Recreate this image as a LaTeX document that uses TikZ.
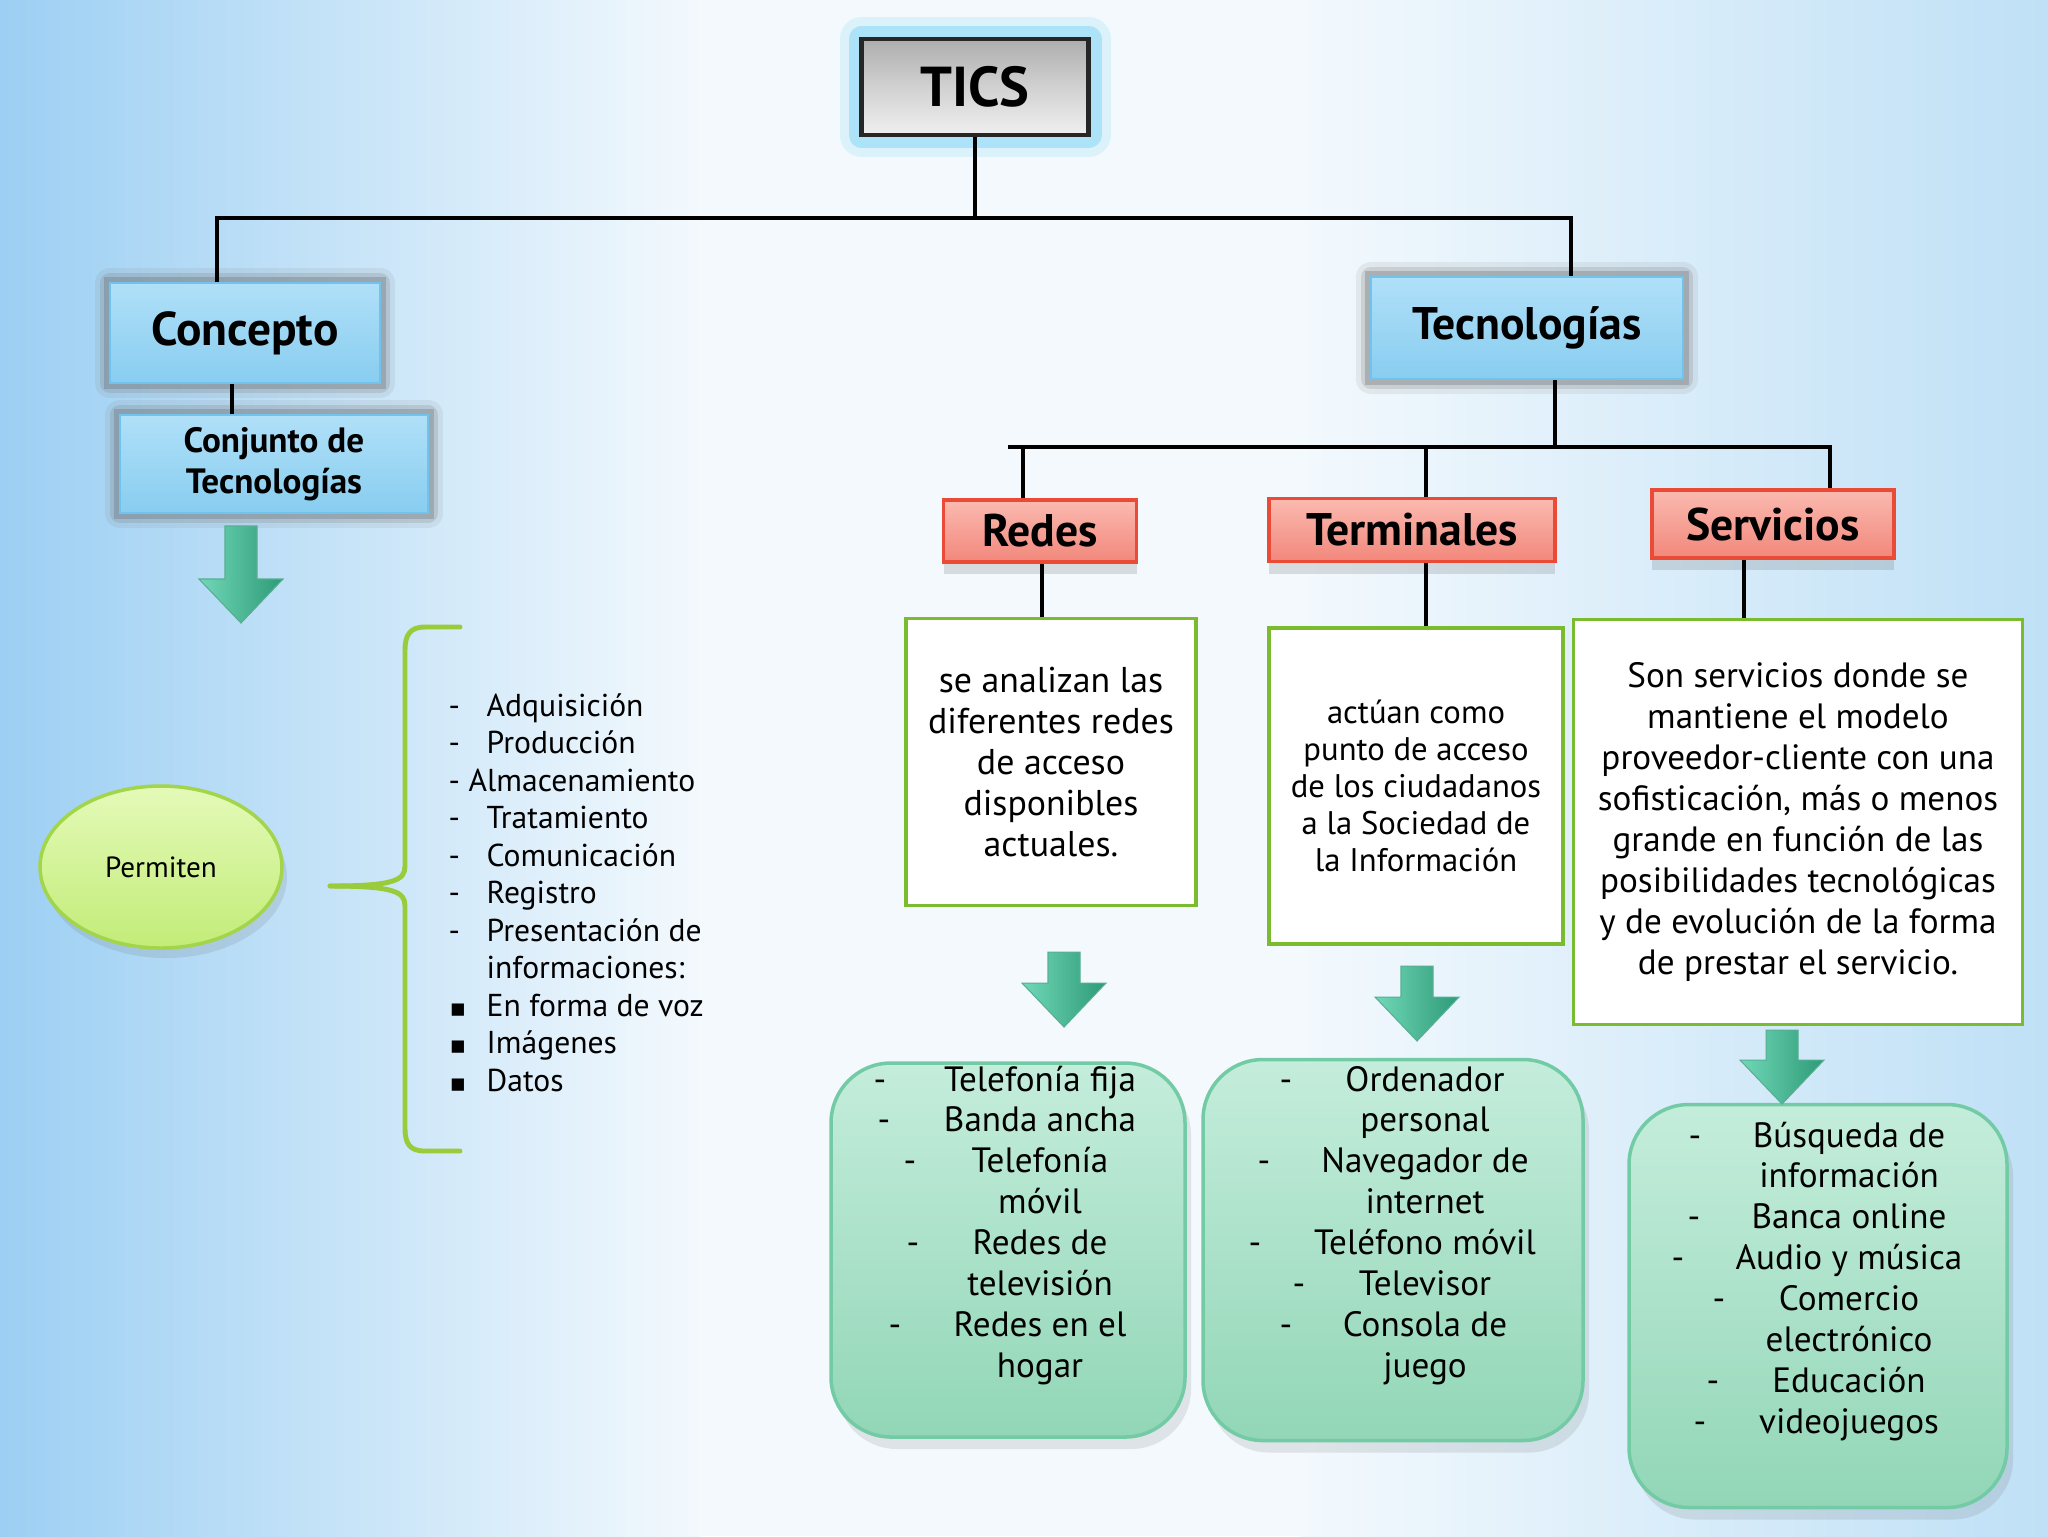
\documentclass[tikz,border=0pt]{standalone}
\usepackage{fontspec}
\setmainfont{PT Sans}
\newfontfamily\symfont{DejaVu Sans}
\usepackage{tikz}
\usetikzlibrary{shadows}
\usetikzlibrary{shapes.geometric}

\definecolor{bgblue}{HTML}{9CCFF3}
\definecolor{bgwhite}{HTML}{F3F9FD}
\definecolor{bgright}{HTML}{BFE0F6}
\definecolor{skytop}{HTML}{B0E0F8}
\definecolor{skybot}{HTML}{88CDF0}
\definecolor{skyline}{HTML}{6FC3EC}
\definecolor{redtop}{HTML}{FBBAB0}
\definecolor{redbot}{HTML}{F2877B}
\definecolor{redline}{HTML}{E94B36}
\definecolor{leafline}{HTML}{7BBB2F}
\definecolor{minttop}{HTML}{C4EDDB}
\definecolor{mintbot}{HTML}{92D6B7}
\definecolor{mintline}{HTML}{72CBA4}
\definecolor{arrlight}{HTML}{70D8B8}
\definecolor{arrdark}{HTML}{2E9A77}
\definecolor{limetop}{HTML}{E4FAB8}
\definecolor{limebot}{HTML}{C2EC78}
\definecolor{limeline}{HTML}{A2D54A}
\definecolor{braceline}{HTML}{9ACB3A}

\begin{document}
\begin{tikzpicture}[x=0.1mm, y=-0.1mm,
    line/.style={draw=black, line width=0.9pt},
    halo/.style={preaction={draw=black!50, line width=3mm, opacity=.12, line join=round},
                 preaction={draw=black!55, line width=2mm, opacity=.2, line join=round},
                 preaction={draw=black!60, line width=1.2mm, opacity=.3}},
    bluebox/.style={rectangle, halo, top color=skytop, bottom color=skybot,
                    draw=skyline, line width=0.8pt, inner sep=0pt},
    redbox/.style={rectangle, top color=redtop, bottom color=redbot, draw=redline,
                   line width=1pt, inner sep=0pt,
                   drop shadow={shadow xshift=0mm, shadow yshift=-1.2mm, opacity=.2, fill=black!60},
                   font=\fontsize{13}{15}\selectfont\bfseries},
    descbox/.style={rectangle, fill=white, draw=leafline, line width=1.1pt,
                    inner sep=0pt, align=center},
    mintbox/.style={rectangle, rounded corners=6mm, top color=minttop, bottom color=mintbot,
                    draw=mintline, line width=1pt,
                    drop shadow={shadow xshift=0.6mm, shadow yshift=-1.2mm, opacity=.15, fill=black!60}},
    listtxt/.style={anchor=base, inner sep=0pt, font=\fontsize{10}{12}\selectfont},
    leftlist/.style={anchor=base west, inner sep=0pt, font=\fontsize{9}{11}\selectfont},
    greenarrow/.style={left color=arrlight, right color=arrdark, draw=arrdark!80, line width=0.3pt},
    brace/.style={draw=braceline, line width=1.4pt, line cap=round}]

% background
\shade[left color=bgblue, right color=bgwhite] (0,0) rectangle (701,1536);
\fill[bgwhite] (700,0) rectangle (1301,1536);
\shade[left color=bgwhite, right color=bgright] (1300,0) rectangle (2048,1536);
\useasboundingbox (0,0) rectangle (2048,1536);

% top
\node[rectangle, preaction={draw=cyan!40, line width=4.4mm, opacity=.25, line join=round},
      preaction={draw=cyan!55, line width=2.6mm, opacity=.45, line join=round},
      top color=black!32, bottom color=black!6, middle color=black!18,
      draw=black!85, line width=1.4pt, minimum width=22.7mm, minimum height=9.6mm,
      font=\fontsize{16}{18}\selectfont\bfseries] (tics) at (975,87) {TICS};

\node[bluebox, minimum width=27mm, minimum height=10mm,
      font=\fontsize{13.5}{16}\selectfont\bfseries] (concepto) at (245,333) {Concepto};
\node[bluebox, minimum width=30.8mm, minimum height=9.8mm, align=center,
      font=\fontsize{10}{11.7}\selectfont\bfseries] (conjunto) at (274,464) {Conjunto de\\Tecnologías};
\node[bluebox, minimum width=31.2mm, minimum height=10.2mm,
      font=\fontsize{13}{16}\selectfont\bfseries] (tecno) at (1527,328) {Tecnologías};

\node[ellipse, top color=limetop, bottom color=limebot, draw=limeline, line width=1pt,
      minimum width=24.2mm, minimum height=16.2mm,
      drop shadow={shadow xshift=0.5mm, shadow yshift=-1mm, opacity=.15, fill=black!60},
      font=\fontsize{8.3}{10}\selectfont] (permiten) at (161,867) {Permiten};

% the three kinds
\node[redbox, minimum width=19.3mm, minimum height=6.2mm] (redes) at (1040,531) {Redes};
\node[redbox, minimum width=28.6mm, minimum height=6.3mm] (term) at (1412,530) {Terminales};
\node[redbox, minimum width=24.2mm, minimum height=6.8mm] (serv) at (1773,524) {Servicios};

\node[descbox, minimum width=29mm, minimum height=28.7mm,
      font=\fontsize{10.2}{11.7}\selectfont] (rdesc) at (1051,762)
      {se analizan las\\diferentes redes\\de acceso\\disponibles\\actuales.};
\node[descbox, minimum width=29.4mm, minimum height=31.6mm,
      font=\fontsize{9.3}{10.5}\selectfont] (tdesc) at (1416,786)
      {actúan como\\punto de acceso\\de los ciudadanos\\a la Sociedad de\\la Información};
\node[descbox, minimum width=44.9mm, minimum height=40.5mm,
      font=\fontsize{10}{11.7}\selectfont] (sdesc) at (1798,822)
      {Son servicios donde se\\mantiene el modelo\\proveedor-cliente con una\\sofisticación, más o menos\\grande en función de las\\posibilidades tecnológicas\\y de evolución de la forma\\de prestar el servicio.};

\node[mintbox, minimum width=35.4mm, minimum height=37.4mm] (rlist) at (1008,1250) {};
\node[mintbox, minimum width=38mm, minimum height=38.1mm] (tlist) at (1393,1250) {};
\node[mintbox, minimum width=37.8mm, minimum height=40.3mm] (slist) at (1818,1306) {};

% connectors
\coordinate (b1) at (217,218);
\coordinate (b2) at (1571,218);
\coordinate (c1) at (232,0);
\coordinate (t1) at (1555,447);
\coordinate (b3) at (1008,447);
\coordinate (b4) at (1830,447);
\coordinate (r1) at (1023,447);
\coordinate (m1) at (1426,447);
\coordinate (r2) at (1042,0);
\coordinate (m2) at (1426,0);
\coordinate (s2) at (1744,0);
\begin{scope}[every path/.style={line}]
  \draw (tics.south) -- (tics.south |- b1);
  \draw (concepto.north -| b1) -- (b1) -- (b2) -- (b2 |- tecno.north);
  \draw (concepto.south -| c1) -- (conjunto.north -| c1);
  \draw (tecno.south -| t1) -- (t1);
  \draw (b3) -- (b4) -- (b4 |- serv.north);
  \draw (r1) -- (r1 |- redes.north);
  \draw (m1) -- (m1 |- term.north);
  \draw (redes.south -| r2) -- (rdesc.north -| r2);
  \draw (term.south -| m2) -- (tdesc.north -| m2);
  \draw (serv.south -| s2) -- (sdesc.north -| s2);
\end{scope}

% green arrows
\foreach \ax/\ay/\al in {241/526/97, 1064/952/75, 1417/966/75, 1782/1030/74}
  \shade[greenarrow] (\ax-16,\ay) -- (\ax+16,\ay) -- (\ax+16,\ay+\al-44) -- (\ax+42,\ay+\al-44)
        -- (\ax,\ay+\al) -- (\ax-42,\ay+\al-44) -- (\ax-16,\ay+\al-44) -- cycle;

% brace
\draw[brace] (460,627) -- (425,627) .. controls (410,627) and (405,635) .. (405,650) -- (405,866)
      .. controls (405,880) and (395,886) .. (330,886);
\draw[brace] (330,886) .. controls (395,886) and (405,892) .. (405,906) -- (405,1128)
      .. controls (405,1144) and (410,1151) .. (425,1151) -- (460,1151);

% left list
\foreach \xx/\t [count=\i] in {486/Adquisición, 486/Producción, 468/Almacenamiento,
    486/Tratamiento, 486/Comunicación, 486/Registro, 486/Presentación de,
    486/informaciones:, 486/En forma de voz, 486/Imágenes, 486/Datos}
  \node[leftlist] (l\i) at (\xx,{716+37.5*(\i-1)}) {\t};
\foreach \i in {1,...,7}
  \node[leftlist] (ld\i) at (448,{716+37.5*(\i-1)}) {-};
\foreach \i in {9,10,11}
  \node[leftlist] (lb\i) at (449,{716+37.5*(\i-1)}) {\symfont\fontsize{7}{9}\selectfont ▪};

% bottom lists
\foreach \t [count=\i] in {Telefonía fija, Banda ancha, Telefonía, móvil, Redes de,
    televisión, Redes en el, hogar}
  \node[listtxt] (rl\i) at (1040,{1091+40.9*(\i-1)}) {\t};
\foreach \dx/\i in {880/1, 884/2, 910/3, 913/5, 895/7}
  \node[listtxt] (rd\i) at (\dx,{1091+40.9*(\i-1)}) {-};

\foreach \t [count=\i] in {Ordenador, personal, Navegador de, internet, Teléfono móvil,
    Televisor, Consola de, juego}
  \node[listtxt] (tl\i) at (1425,{1091+40.9*(\i-1)}) {\t};
\foreach \dx/\i in {1286/1, 1264/3, 1255/5, 1299/6, 1286/7}
  \node[listtxt] (td\i) at (\dx,{1091+40.9*(\i-1)}) {-};

\foreach \t [count=\i] in {Búsqueda de, información, Banca online, Audio y música,
    Comercio, electrónico, Educación, videojuegos}
  \node[listtxt] (sl\i) at (1849,{1147+40.9*(\i-1)}) {\t};
\foreach \dx/\i in {1695/1, 1694/3, 1678/4, 1719/5, 1713/7, 1700/8}
  \node[listtxt] (sd\i) at (\dx,{1147+40.9*(\i-1)}) {-};
\end{tikzpicture}
\end{document}
